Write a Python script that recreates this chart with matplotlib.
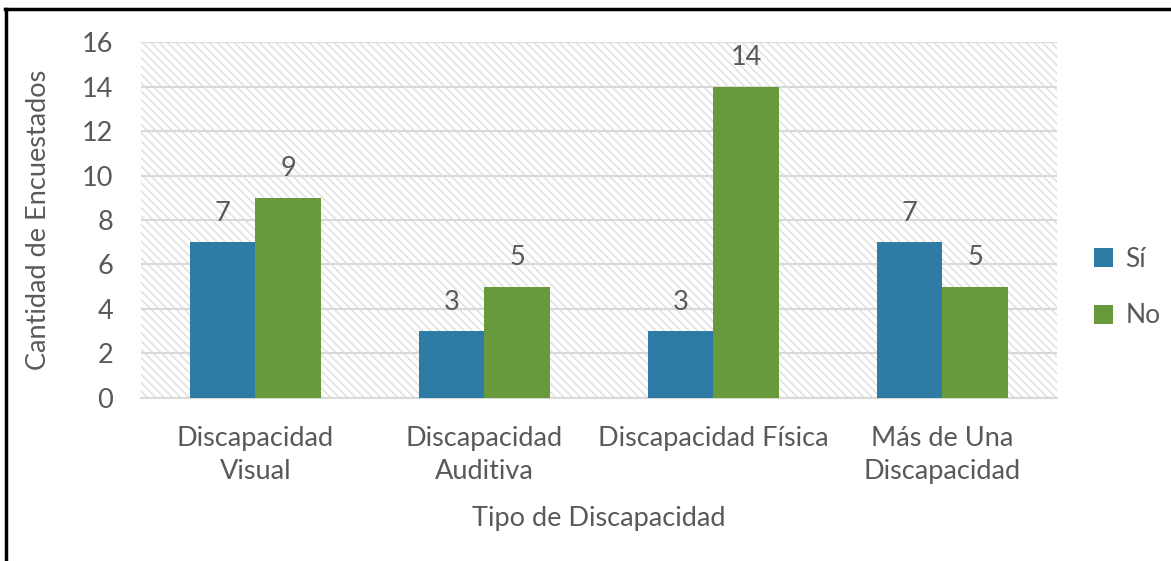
import numpy as np
import matplotlib.pyplot as plt
from matplotlib.lines import Line2D

categorias = ["Discapacidad\nVisual", "Discapacidad\nAuditiva",
              "Discapacidad Física", "Más de Una\nDiscapacidad"]
si = [7, 3, 3, 7]
no = [9, 5, 14, 5]

plt.rcParams['font.family'] = ['Lato', 'DejaVu Sans']
plt.rcParams['hatch.color'] = '#e0e0e0'
plt.rcParams['hatch.linewidth'] = 1.1
texto = '#595959'
fs = 19.5

fig = plt.figure(figsize=(11.71, 5.61), dpi=100)
ax = fig.add_axes([0.1204, 0.2906, 0.7822, 0.6345])

# fondo rayado del area de trazado
ax.set_facecolor('white')
ax.add_patch(plt.Rectangle((0, 0), 1, 1, transform=ax.transAxes,
                           facecolor='white', hatch='\\\\\\\\', edgecolor='#e0e0e0',
                           linewidth=0, zorder=0))

x = np.arange(len(categorias))
w = 0.288
b1 = ax.bar(x - w / 2, si, w, color='#2e7ca6', label='Sí', zorder=3)
b2 = ax.bar(x + w / 2, no, w, color='#68993d', label='No', zorder=3)

for barras in (b1, b2):
    for b in barras:
        ax.annotate(f"{int(b.get_height())}", (b.get_x() + b.get_width() / 2, b.get_height()),
                    xytext=(0, 21), textcoords='offset points', ha='center', va='center',
                    fontsize=fs, color=texto)

ax.set_xlim(-0.5, 3.5)
ax.set_ylim(0, 16)
ax.set_yticks(range(0, 17, 2))
ax.yaxis.grid(True, color='#d9d9d9', linewidth=1.5, zorder=1)
ax.set_axisbelow(True)
for s in ['top', 'right', 'left']:
    ax.spines[s].set_visible(False)
ax.spines['bottom'].set_color('#d9d9d9')
ax.spines['bottom'].set_linewidth(1.5)
ax.tick_params(length=0, labelsize=fs, labelcolor=texto)
ax.tick_params(axis='x', pad=20)
ax.tick_params(axis='y', pad=20)
ax.set_xticks(x)
ax.set_xticklabels(categorias, linespacing=1.42)

ax.set_xlabel("Tipo de Discapacidad", fontsize=fs, color=texto, labelpad=16)
ax.set_ylabel("Cantidad de Encuestados", fontsize=fs, color=texto, labelpad=22)

ax.legend(loc='center left', bbox_to_anchor=(1.04, 0.31), frameon=False,
          fontsize=19, labelcolor=texto, handlelength=0.75, handleheight=0.75,
          handletextpad=0.45, labelspacing=1.2, borderpad=0, borderaxespad=0)

# marco de la figura (arriba e izquierda)
fig.add_artist(Line2D([0.0045, 1], [0.9835, 0.9835], color='black', lw=2.5))
fig.add_artist(Line2D([0.0055, 0.0055], [0, 0.984], color='black', lw=2.5))

fig.savefig('out.png', dpi=100, facecolor='white')
